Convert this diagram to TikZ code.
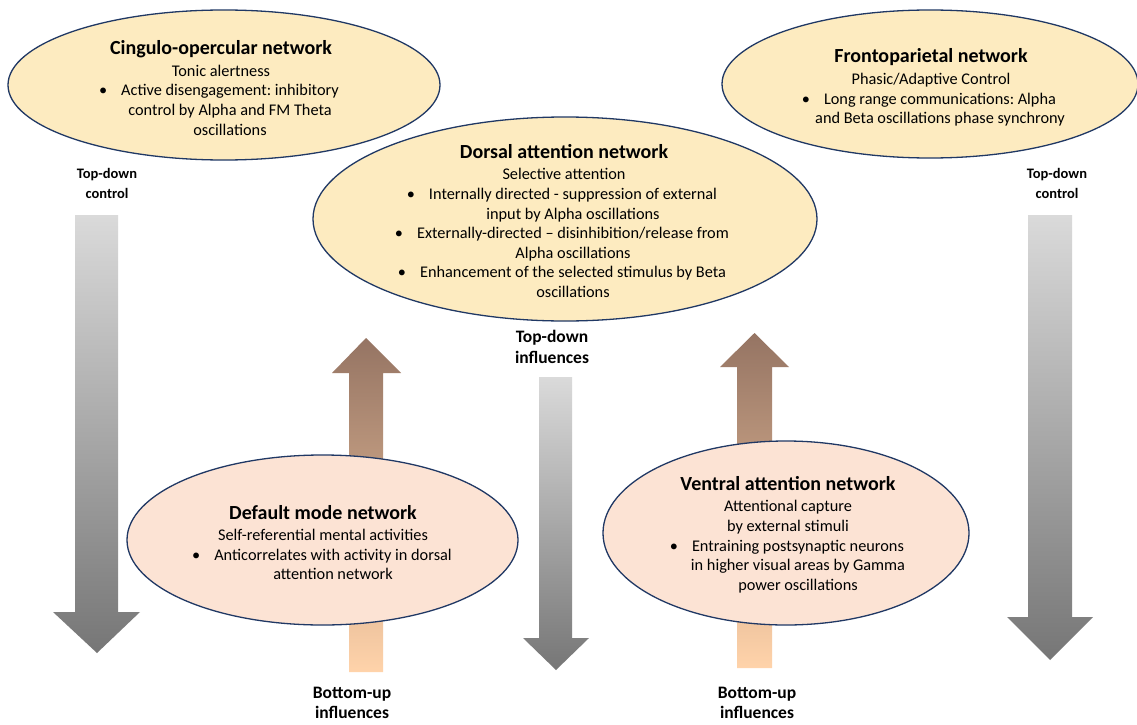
\documentclass[tikz,border=0pt]{standalone}
\usepackage{fontspec}
\setmainfont{Carlito}
\usetikzlibrary{shapes.geometric}
\frenchspacing
\definecolor{cream}{HTML}{FDEBC0}
\definecolor{pinkf}{HTML}{FCE3D4}
\definecolor{navy}{HTML}{203864}
\definecolor{gtop}{HTML}{DADADA}
\definecolor{gbot}{HTML}{767676}
\definecolor{btop}{HTML}{957463}
\definecolor{bbot}{HTML}{FFD3AA}
\newcommand\mybul{\llap{\textbullet\hspace{14pt}}}
\newcommand\ttl[1]{{\fontsize{20}{22}\selectfont\bfseries #1}\\[2pt]}
\begin{document}
\begin{tikzpicture}[x=1pt,y=-1pt,
  net/.style={ellipse, draw=navy, line width=1.3pt, inner sep=0pt},
  cnet/.style={net, fill=cream},
  pnet/.style={net, fill=pinkf},
  txt/.style={align=center, font=\fontsize{16.3}{19.6}\selectfont, text=black},
  slbl/.style={align=center, font=\fontsize{14.5}{20}\selectfont\bfseries},
  blbl/.style={align=center, font=\fontsize{17.5}{20.5}\selectfont\bfseries},
  grayarrow/.style={top color=gtop, bottom color=gbot, draw=none},
  brownarrow/.style={top color=btop, bottom color=bbot, draw=none}]
\useasboundingbox (0,0) rectangle (1137,725);
\fill[white] (0,0) rectangle (1137,725);

% block arrows
\shade[grayarrow] (75,215) -- (118,215) -- (118,612) -- (140,612) -- (97,653) -- (53,612) -- (75,612) -- cycle;
\shade[grayarrow] (1028,215) -- (1072,215) -- (1072,617) -- (1093,617) -- (1050,660) -- (1007,617) -- (1028,617) -- cycle;
\shade[grayarrow] (539,377) -- (572,377) -- (572,638) -- (589,638) -- (556,670) -- (523,638) -- (539,638) -- cycle;
\shade[brownarrow] (366,338) -- (401,373) -- (383,373) -- (383,672) -- (349,672) -- (349,373) -- (332,373) -- cycle;
\shade[brownarrow] (754.5,333) -- (789,367) -- (772,367) -- (772,668) -- (737,668) -- (737,367) -- (720,367) -- cycle;

% ellipses
\node[cnet, minimum width=432pt, minimum height=150pt] (co) at (224,85) {};
\node[cnet, minimum width=416pt, minimum height=148pt] (fp) at (930,84) {};
\node[cnet, minimum width=504pt, minimum height=204pt] (da) at (565,219) {};
\node[pnet, minimum width=391pt, minimum height=170pt] (dm) at (322.5,540) {};
\node[pnet, minimum width=366pt, minimum height=184pt] (va) at (786,533) {};

% texts
\node[txt] (coT) at (221,88) {\ttl{Cingulo-opercular network}
Tonic alertness\\
\hspace*{18pt}\mybul Active disengagement: inhibitory\\
\hspace*{18pt}control by Alpha and FM Theta\\
\hspace*{18pt}oscillations};
\node[txt] (fpT) at (931,87.5) {\ttl{Frontoparietal network}
Phasic/Adaptive Control\\
\hspace*{18pt}\mybul Long range communications: Alpha\\
\hspace*{18pt}and Beta oscillations phase synchrony};
\node[txt] (daT) at (564,221) {\ttl{Dorsal attention network}
Selective attention\\
\hspace*{18pt}\mybul Internally directed - suppression of external\\
\hspace*{18pt}input by Alpha oscillations\\
\hspace*{18pt}\mybul Externally-directed -- disinhibition/release from\\
\hspace*{18pt}Alpha oscillations\\
\hspace*{18pt}\mybul Enhancement of the selected stimulus by Beta\\
\hspace*{18pt}oscillations};
\node[txt] (dmT) at (323,542.5) {\ttl{Default mode network}
Self-referential mental activities\\
\hspace*{20pt}\mybul Anticorrelates with activity in dorsal\\
\hspace*{20pt}attention network};
\node[txt] (vaT) at (788,534.5) {\ttl{Ventral attention network}
Attentional capture\\
by external stimuli\\
\hspace*{20pt}\mybul Entraining postsynaptic neurons\\
\hspace*{20pt}in higher visual areas by Gamma\\
\hspace*{20pt}power oscillations};

% labels
\node[slbl] (tdl) at (107,183) {Top-down\\control};
\node[slbl] (tdr) at (1057,183) {Top-down\\control};
\node[blbl] (tdm) at (552,347) {Top-down\\influences};
\node[blbl] (bul) at (352,703) {Bottom-up\\influences};
\node[blbl] (bur) at (757,703) {Bottom-up\\influences};
\end{tikzpicture}
\end{document}
